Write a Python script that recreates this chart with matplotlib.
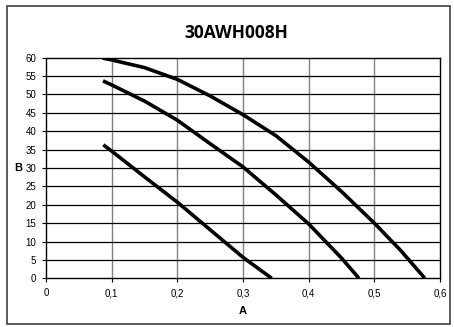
import matplotlib
matplotlib.use("Agg")
import matplotlib.pyplot as plt
from matplotlib.patches import Rectangle

title = "30AWH008H"
x_label = "A"
y_label = "B"
xticks = [0, 0.1, 0.2, 0.3, 0.4, 0.5, 0.6]
xtick_labels = ["0", "0,1", "0,2", "0,3", "0,4", "0,5", "0,6"]
yticks = list(range(0, 61, 5))

curve1_x = [0.0863, 0.1, 0.15, 0.2, 0.25, 0.3, 0.35, 0.4, 0.45, 0.5, 0.54, 0.577]
curve1_y = [59.9, 59.4, 57.3, 54.1, 49.6, 44.5, 38.8, 31.6, 23.6, 15.0, 7.6, 0]
curve2_x = [0.0868, 0.1, 0.15, 0.2, 0.25, 0.3, 0.35, 0.4, 0.45, 0.4766]
curve2_y = [53.7, 52.6, 48.2, 43.0, 36.6, 30.3, 22.7, 14.8, 5.5, 0]
curve3_x = [0.0873, 0.1, 0.15, 0.2, 0.25, 0.3, 0.3437]
curve3_y = [36.3, 34.6, 27.6, 20.7, 13.2, 5.7, 0]

fig = plt.figure(figsize=(4.54, 3.27), dpi=100)
fig.patches.append(Rectangle((7/454, 1-324/327), 443/454, 318/327, transform=fig.transFigure,
                             fill=False, edgecolor="#404040", linewidth=1.2))
ax = fig.add_axes([46/454, 1-278.3/327, 394/454, (278.3-57.7)/327])

for xv in xticks[1:-1]:
    ax.axvline(xv, color="#808080", linewidth=1.0, zorder=1)
for yv in yticks[1:-1]:
    ax.axhline(yv, color="black", linewidth=0.9, zorder=1)

for cx, cy in [(curve1_x, curve1_y), (curve2_x, curve2_y), (curve3_x, curve3_y)]:
    ax.plot(cx, cy, color="black", linewidth=2.6, solid_capstyle="butt",
            solid_joinstyle="round", zorder=3)

ax.set_xlim(0, 0.6)
ax.set_ylim(0, 60)
ax.set_xticks(xticks)
ax.set_xticklabels(xtick_labels, fontfamily="Liberation Sans", fontsize=7)
ax.set_yticks(yticks)
ax.set_yticklabels([str(v) for v in yticks], fontfamily="Liberation Sans", fontsize=7)
ax.tick_params(axis="both", length=3, width=0.8, pad=4)
for s in ax.spines.values():
    s.set_linewidth(1.0)
    s.set_color("black")

ax.set_xlabel(x_label, fontfamily="Liberation Sans", fontweight="bold", fontsize=8)
ax.xaxis.set_label_coords(0.5, (278.3-311.5)/220.6)
ax.xaxis.label.set_va("center")
ax.set_ylabel(y_label, fontfamily="Liberation Sans", fontweight="bold", fontsize=8, rotation=0)
ax.yaxis.set_label_coords((18.5-46)/394, 0.5)
ax.yaxis.label.set_va("center")
ax.yaxis.label.set_ha("center")
fig.text(236.5/454, 1-33/327, title, ha="center", va="center", fontfamily="Open Sans",
         fontweight="bold", fontsize=12.5)

fig.savefig("out.png", dpi=100)
